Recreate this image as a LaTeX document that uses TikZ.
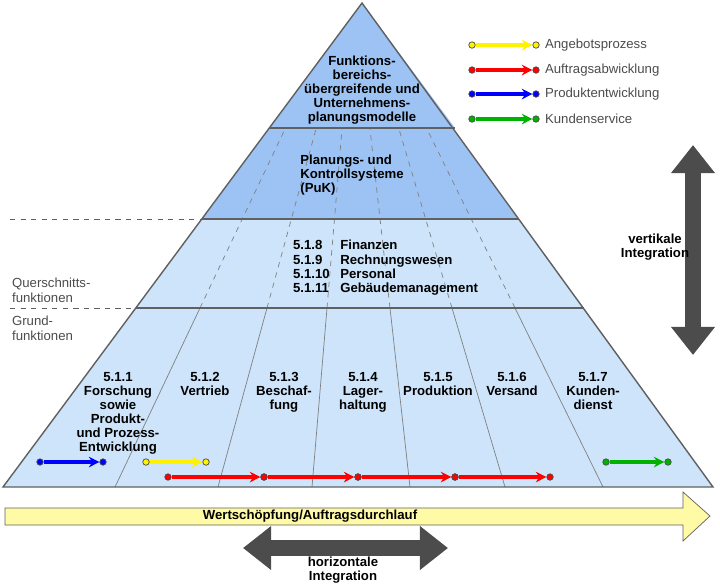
\documentclass[tikz,border=0pt]{standalone}
\usepackage{fontspec}
\setmainfont{Liberation Sans}
\usetikzlibrary{arrows.meta, positioning, shapes, calc}
\definecolor{topblue}{HTML}{9CC3F3}
\definecolor{lowblue}{HTML}{CDE4FA}
\definecolor{edgegray}{HTML}{606060}
\tikzset{
  lbl/.style={font=\bfseries\fontsize{7.5}{8}\selectfont, align=center, inner sep=1pt},
  side/.style={font=\fontsize{7.5}{8.5}\selectfont, text=black!70, align=left, inner sep=1pt},
  flow/.style={line width=2pt, -{Stealth[length=6pt,width=6pt]}},
  dot/.style={circle, fill, draw=black!70, inner sep=1.3pt}
}
\begin{document}
\begin{tikzpicture}[x=0.02cm, y=-0.02cm]
    \useasboundingbox (0,0) rectangle (720,583);
    % Bands
    \fill[lowblue] (3,487) -- (136,308) -- (202,219) -- (519,219) -- (584,308) -- (713,487) -- cycle;
    \fill[topblue] (202,219) -- (362,3) -- (519,219) -- cycle;
    % Divider lines
    \foreach \b/\t in {115/200, 218/267, 312/327, 410/390, 505/452, 603/515} {
        \draw[gray, thin] (\b,487) -- (\t,308);
        \draw[gray, thin, dashed] (\t,308) -- ($(\t,308)+(\t-\b,-179)$);
    }
    \fill[topblue] (269,128) -- (362,3) -- (455,128) -- cycle;
    % Level lines
    \draw[thick, edgegray] (269,128) -- (455,128);
    \draw[thick, edgegray] (202,219) -- (519,219);
    \draw[thick, edgegray] (136,308) -- (584,308);
    \draw[edgegray, dashed] (10,219) -- (202,219);
    \draw[edgegray, dashed] (10,308) -- (136,308);
    \draw[thick, edgegray] (3,487) -- (362,3) -- (713,487) -- cycle;
    % Texts in pyramid
    \node[lbl] (top) at (362,90) {Funktions-\\bereichs-\\übergreifende und\\Unternehmens-\\planungsmodelle};
    \node[lbl, align=left] (puk) at (352,175) {Planungs- und\\Kontrollsysteme\\(PuK)};
    \node[lbl, anchor=north west] (quer) at (291,238) {%
      \begin{tabular}{@{}l@{\hspace{6pt}}l@{}}
      5.1.8 & Finanzen\\ 5.1.9 & Rechnungswesen\\
      5.1.10 & Personal\\ 5.1.11 & Gebäudemanagement
      \end{tabular}};
    \node[side, anchor=west] (qf) at (10,290) {Querschnitts-\\funktionen};
    \node[side, anchor=west] (gf) at (10,328) {Grund-\\funktionen};
    \foreach \x/\name/\txt in {
        118/f1/{5.1.1\\Forschung\\sowie\\Produkt-\\und Prozess-\\Entwicklung},
        205/f2/{5.1.2\\Vertrieb},
        284/f3/{5.1.3\\Beschaf-\\fung},
        363/f4/{5.1.4\\Lager-\\haltung},
        438/f5/{5.1.5\\Produktion},
        512/f6/{5.1.6\\Versand},
        593/f7/{5.1.7\\Kunden-\\dienst}} {
        \node[lbl, anchor=north] (\name) at (\x,370) {\txt};
    }
    % Process arrows
    \foreach \xa/\xb/\y/\c in {40/103/462/blue, 146/206/462/yellow, 606/668/462/green!70!black,
        168/264/477/red, 264/358/477/red, 358/455/477/red, 455/550/477/red} {
        \node[dot, fill=\c] (s\xa) at (\xa,\y) {};
        \node[dot, fill=\c] (e\xa) at (\xb,\y) {};
        \draw[flow, \c] (s\xa) -- (e\xa);
    }
    % Legend
    \foreach \y/\c/\txt in {45/yellow/Angebotsprozess, 70/red/Auftragsabwicklung,
        94/blue/Produktentwicklung, 119/green!70!black/Kundenservice} {
        \node[dot, fill=\c] (ls\y) at (472,\y) {};
        \node[dot, fill=\c] (le\y) at (536,\y) {};
        \draw[flow, \c] (ls\y) -- (le\y);
        \node[side, anchor=west] (lt\y) at (543,\y) {\txt};
    }
    % Wertschoepfung
    \draw[draw=edgegray, fill=yellow!35] (5,508) -- (683,508) -- (683,492) -- (710,516)
        -- (683,541) -- (683,525) -- (5,525) -- cycle;
    \node[lbl] (wert) at (310,516) {Wertschöpfung/Auftragsdurchlauf};
    % Integration arrows
    \draw[line width=9pt, black!70, {Triangle[length=16pt,width=24pt]}-{Triangle[length=16pt,width=24pt]}] (243,548) -- (448,548);
    \node[lbl] (hint) at (343,570) {horizontale\\Integration};
    \draw[line width=9pt, black!70, {Triangle[length=16pt,width=24pt]}-{Triangle[length=16pt,width=24pt]}] (693,145) -- (693,355);
    \node[lbl] (vint) at (655,247) {vertikale\\Integration};
\end{tikzpicture}
\end{document}
